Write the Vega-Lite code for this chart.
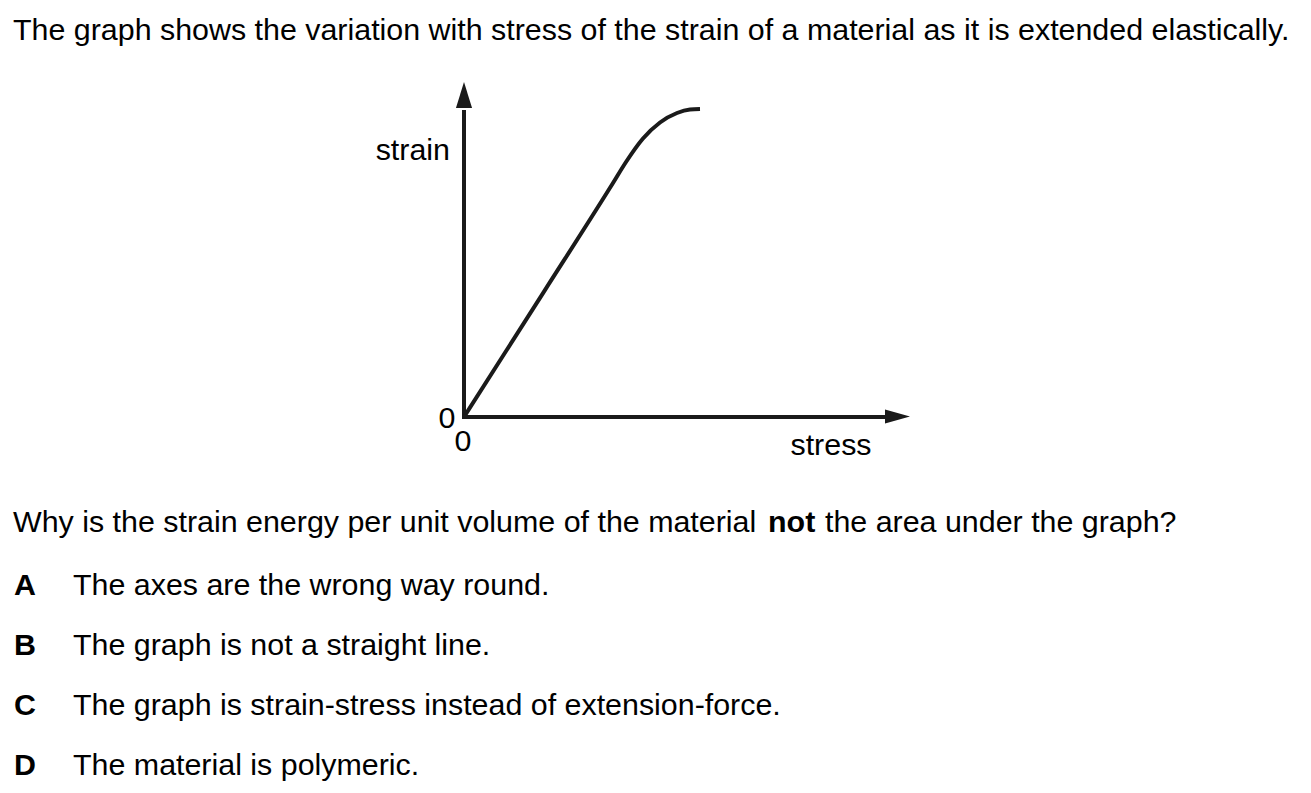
{
  "$schema": "https://vega.github.io/schema/vega-lite/v6.json",
  "width": 1311,
  "height": 793,
  "autosize": {"type": "fit", "contains": "padding"},
  "padding": 0,
  "background": "white",
  "config": {"view": {"stroke": null}, "text": {"font": "Liberation Sans", "fontSize": 30.4, "color": "#000000", "baseline": "middle"}},
  "layer": [
    {
      "data": {"values": [
        {"stress": 0, "strain": 0, "x2": 0, "y2": 3.05},
        {"stress": 0, "strain": 0, "x2": 4.3, "y2": 0}
      ]},
      "mark": {"type": "rule", "strokeWidth": 4, "color": "#1a1a1a", "strokeCap": "square"},
      "encoding": {
        "x": {"field": "stress", "type": "quantitative", "axis": null, "scale": {"domain": [-4.64, 8.47], "nice": false, "zero": false}},
        "y": {"field": "strain", "type": "quantitative", "axis": null, "scale": {"domain": [-3.76, 4.17], "nice": false, "zero": false}},
        "x2": {"field": "x2"},
        "y2": {"field": "y2"}
      }
    },
    {
      "data": {"values": [{"stress": 0, "strain": 3.22}]},
      "mark": {"type": "point", "filled": true, "opacity": 1, "color": "#1a1a1a", "shape": "M0,-1L0.62,1L-0.62,1Z", "size": 676},
      "encoding": {
        "x": {"field": "stress", "type": "quantitative"},
        "y": {"field": "strain", "type": "quantitative"}
      }
    },
    {
      "data": {"values": [{"stress": 4.335, "strain": 0.005}]},
      "mark": {"type": "point", "filled": true, "opacity": 1, "color": "#1a1a1a", "shape": "M1,0L-1,0.56L-1,-0.56Z", "size": 625},
      "encoding": {
        "x": {"field": "stress", "type": "quantitative"},
        "y": {"field": "strain", "type": "quantitative"}
      }
    },
    {
      "data": {"values": [
        {"stress": 0, "strain": 0},
        {"stress": 0.8, "strain": 1.254},
        {"stress": 1.49, "strain": 2.34},
        {"stress": 1.62, "strain": 2.55},
        {"stress": 1.79, "strain": 2.785},
        {"stress": 1.96, "strain": 2.945},
        {"stress": 2.13, "strain": 3.04},
        {"stress": 2.26, "strain": 3.075},
        {"stress": 2.36, "strain": 3.08}
      ]},
      "mark": {"type": "line", "interpolate": "monotone", "strokeWidth": 4, "color": "#1a1a1a"},
      "encoding": {
        "x": {"field": "stress", "type": "quantitative"},
        "y": {"field": "strain", "type": "quantitative"}
      }
    },
    {
      "data": {"values": [
        {"x": -4.51, "y": 3.86, "label": "The graph shows the variation with stress of the strain of a material as it is extended elastically."},
        {"x": -4.51, "y": -1.06, "label": "Why is the strain energy per unit volume of the material"},
        {"x": 3.61, "y": -1.06, "label": "the area under the graph?"},
        {"x": -3.91, "y": -1.69, "label": "The axes are the wrong way round."},
        {"x": -3.91, "y": -2.29, "label": "The graph is not a straight line."},
        {"x": -3.91, "y": -2.89, "label": "The graph is strain-stress instead of extension-force."},
        {"x": -3.91, "y": -3.49, "label": "The material is polymeric."}
      ]},
      "mark": {"type": "text", "align": "left"},
      "encoding": {
        "x": {"field": "x", "type": "quantitative"},
        "y": {"field": "y", "type": "quantitative"},
        "text": {"field": "label"}
      }
    },
    {
      "data": {"values": [
        {"x": 3.04, "y": -1.06, "label": "not"},
        {"x": -4.5, "y": -1.69, "label": "A"},
        {"x": -4.5, "y": -2.29, "label": "B"},
        {"x": -4.5, "y": -2.89, "label": "C"},
        {"x": -4.5, "y": -3.49, "label": "D"}
      ]},
      "mark": {"type": "text", "align": "left", "fontWeight": "bold"},
      "encoding": {
        "x": {"field": "x", "type": "quantitative"},
        "y": {"field": "y", "type": "quantitative"},
        "text": {"field": "label"}
      }
    },
    {
      "data": {"values": [
        {"x": -0.14, "y": 2.66, "label": "strain"}
      ]},
      "mark": {"type": "text", "align": "right"},
      "encoding": {
        "x": {"field": "x", "type": "quantitative"},
        "y": {"field": "y", "type": "quantitative"},
        "text": {"field": "label"}
      }
    },
    {
      "data": {"values": [
        {"x": -0.17, "y": -0.02, "label": "0"},
        {"x": -0.01, "y": -0.25, "label": "0"},
        {"x": 3.67, "y": -0.29, "label": "stress"}
      ]},
      "mark": {"type": "text", "align": "center"},
      "encoding": {
        "x": {"field": "x", "type": "quantitative"},
        "y": {"field": "y", "type": "quantitative"},
        "text": {"field": "label"}
      }
    }
  ]
}
